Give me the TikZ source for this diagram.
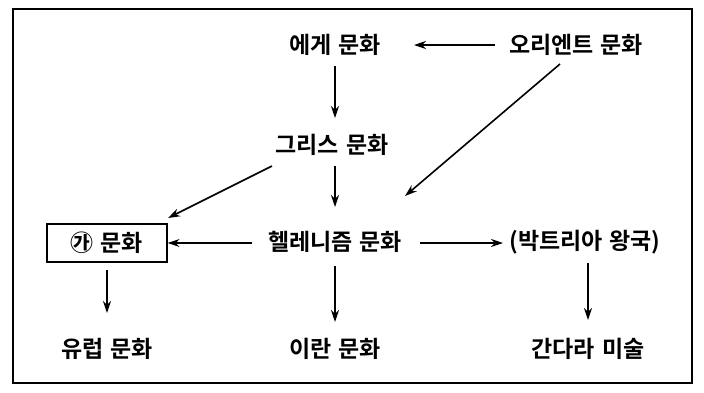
\documentclass[tikz,border=0pt]{standalone}
\usepackage{fontspec}
\setmainfont{Noto Sans CJK KR}[BoldFont={Noto Sans CJK KR Bold}]
\usetikzlibrary{arrows.meta}
\begin{document}
\begin{tikzpicture}[x=1pt,y=-1pt,
  lbl/.style={font=\fontsize{23}{25}\selectfont\bfseries, inner sep=2pt},
  arr/.style={line width=1.6pt, -{Stealth[length=12pt,width=8pt]}}]
\useasboundingbox (0,0) rectangle (704,392);
\draw[line width=1.8pt] (13,9) rectangle (692,383);
\node[lbl] (aegean) at (335,45) {에게\hspace{0.3em}문화};
\node[lbl] (orient) at (576,45) {오리엔트\hspace{0.3em}문화};
\node[lbl] (greek) at (332,145) {그리스\hspace{0.3em}문화};
\node[lbl] (hellen) at (335,242) {헬레니즘\hspace{0.3em}문화};
\node[lbl, draw, line width=1.3pt, minimum width=120pt, minimum height=38pt] (ga) at (107,243) {㉮\hspace{0.3em}문화};
\node[lbl] (bact) at (585,242) {(박트리아\hspace{0.3em}왕국)};
\node[lbl] (europe) at (107,349) {유럽\hspace{0.3em}문화};
\node[lbl] (iran) at (335,349) {이란\hspace{0.3em}문화};
\node[lbl] (gandh) at (588,349) {간다라\hspace{0.3em}미술};
\coordinate (oe) at (495,45);
\coordinate (ae) at (414,45);
\draw[arr] (oe) -- (ae);
\coordinate (a1) at (335,66);
\coordinate (g1) at (335,118);
\draw[arr] (a1) -- (g1);
\coordinate (o1) at (560,64);
\coordinate (o2) at (405,196);
\draw[arr] (o1) -- (o2);
\coordinate (gr1) at (272,166);
\coordinate (gr2) at (168,218);
\draw[arr] (gr1) -- (gr2);
\coordinate (g2) at (335,166);
\coordinate (h1) at (335,207);
\draw[arr] (g2) -- (h1);
\coordinate (hl) at (252,243);
\draw[arr] (hl) -- (ga.east);
\coordinate (hr) at (420,243);
\coordinate (br) at (503,243);
\draw[arr] (hr) -- (br);
\coordinate (ga2) at (107,270);
\coordinate (eu1) at (107,313);
\draw[arr] (ga2) -- (eu1);
\coordinate (h2) at (335,266);
\coordinate (ir1) at (335,322);
\draw[arr] (h2) -- (ir1);
\coordinate (b2) at (588,263);
\coordinate (gd1) at (588,320);
\draw[arr] (b2) -- (gd1);
\end{tikzpicture}
\end{document}
